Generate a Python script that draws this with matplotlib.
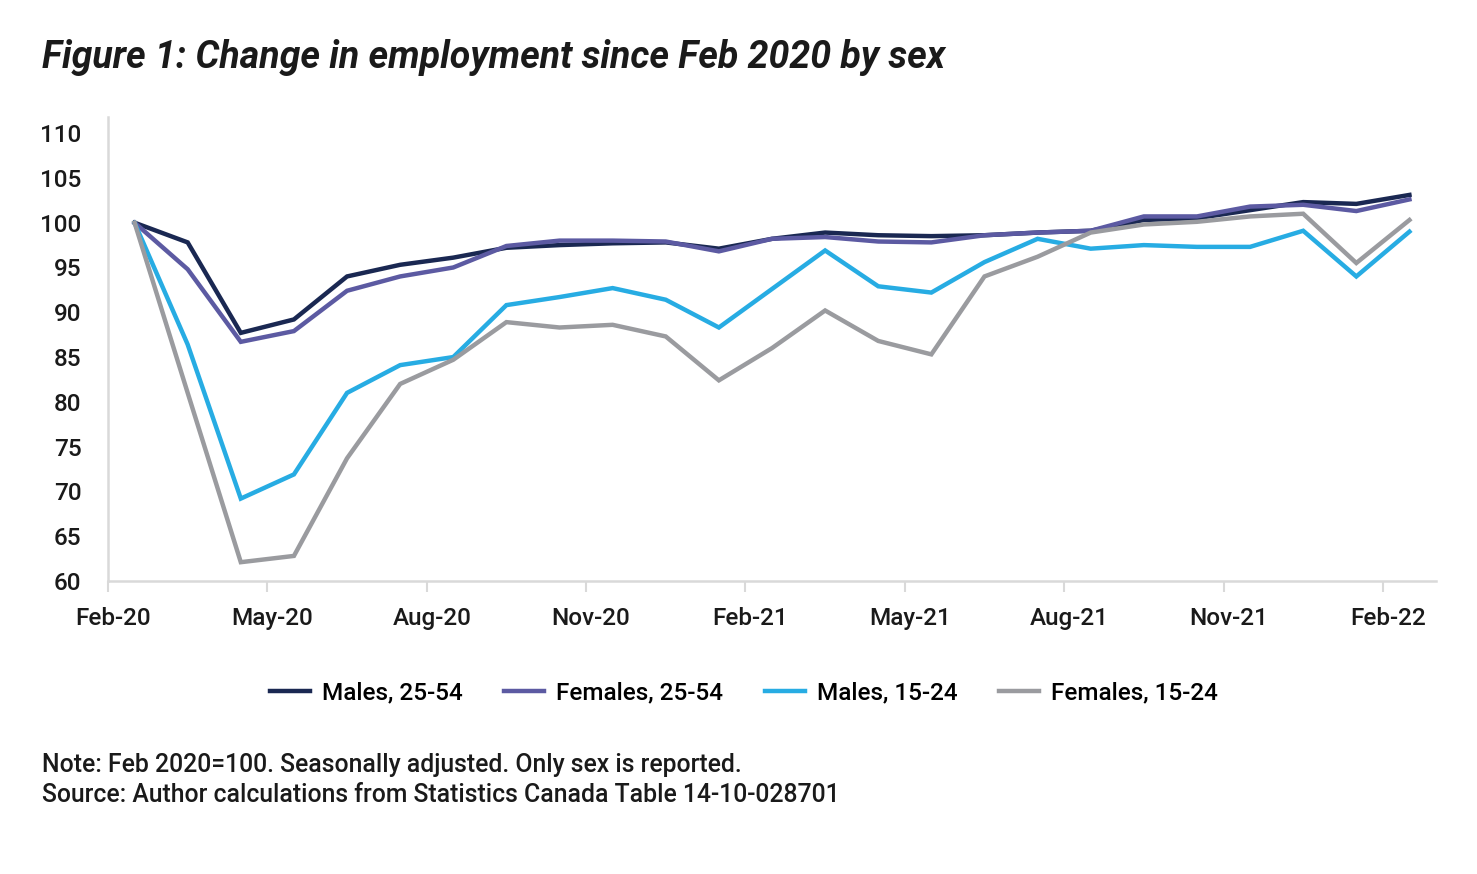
import matplotlib.pyplot as plt
import matplotlib.transforms as mtransforms
import numpy as np

# monthly index, Feb 2020 = 100
months = ['Feb-20', 'Mar-20', 'Apr-20', 'May-20', 'Jun-20', 'Jul-20', 'Aug-20', 'Sep-20',
          'Oct-20', 'Nov-20', 'Dec-20', 'Jan-21', 'Feb-21', 'Mar-21', 'Apr-21', 'May-21',
          'Jun-21', 'Jul-21', 'Aug-21', 'Sep-21', 'Oct-21', 'Nov-21', 'Dec-21', 'Jan-22',
          'Feb-22']
males_25_54 = [100.0, 97.8, 87.7, 89.2, 94.0, 95.3, 96.1, 97.2, 97.5, 97.7, 97.8, 97.1, 98.2,
               98.9, 98.6, 98.5, 98.6, 98.9, 99.1, 100.3, 100.5, 101.4, 102.3, 102.1, 103.1]
females_25_54 = [100.0, 94.8, 86.7, 87.9, 92.4, 94.0, 95.0, 97.4, 98.0, 98.0, 97.9, 96.8, 98.2,
                 98.4, 97.9, 97.8, 98.6, 98.9, 99.1, 100.7, 100.7, 101.8, 102.0, 101.3, 102.6]
males_15_24 = [100.0, 86.4, 69.2, 71.9, 81.0, 84.1, 85.0, 90.8, 91.7, 92.7, 91.4, 88.3, 92.6,
               96.9, 92.9, 92.2, 95.6, 98.2, 97.1, 97.5, 97.3, 97.3, 99.1, 94.0, 99.0]
females_15_24 = [100.0, 81.0, 62.1, 62.8, 73.7, 82.0, 84.7, 88.9, 88.3, 88.6, 87.3, 82.4, 86.0,
                 90.2, 86.8, 85.3, 94.0, 96.2, 98.9, 99.8, 100.1, 100.7, 101.0, 95.5, 100.3]

series = [('Males, 25-54', males_25_54, '#1a2852'),
          ('Females, 25-54', females_25_54, '#5c5aa2'),
          ('Males, 15-24', males_15_24, '#27ace3'),
          ('Females, 15-24', females_15_24, '#9a9b9f')]

plt.rcParams['font.family'] = ['Roboto', 'DejaVu Sans']
plt.rcParams['font.weight'] = 'medium'
FS = 17.5
TXT = '#1a1a1a'

fig = plt.figure(figsize=(14.77, 8.74), dpi=100)
ax = fig.add_axes([108 / 1477, 1 - 581 / 874, (1436 - 108) / 1477, (581 - 117) / 874])

x = np.arange(len(months))
for name, vals, col in series:
    ax.plot(x, vals, color=col, lw=3.2, label=name, solid_joinstyle='miter')

ax.set_xlim(-0.5, len(months) - 0.5)
ax.set_ylim(60, 111.8)
ax.set_yticks(range(60, 111, 5))
ax.tick_params(axis='y', length=0, labelsize=FS, pad=19, colors=TXT)

tick_pos = np.arange(-0.5, len(months) - 0.5, 3)
ax.set_xticks(tick_pos)
ax.set_xticklabels(months[::3])
ax.tick_params(axis='x', length=8, width=1.5, color='#d9d9d9', labelsize=FS, pad=11,
               labelcolor=TXT)
shift = mtransforms.ScaledTranslation(5 / 100, 0, fig.dpi_scale_trans)
for lab in ax.get_xticklabels():
    lab.set_transform(lab.get_transform() + shift)

for s in ['top', 'right']:
    ax.spines[s].set_visible(False)
for s in ['left', 'bottom']:
    ax.spines[s].set_color('#d9d9d9')
    ax.spines[s].set_linewidth(1.8)

fig.text(42 / 1477, 1 - 57 / 874, 'Figure 1: Change in employment since Feb 2020 by sex',
         fontsize=27, fontweight='bold', style='italic', va='center', ha='left', color=TXT)

fig.legend(loc='center', bbox_to_anchor=(744 / 1477, 1 - 693 / 874), ncol=4, frameon=False,
           fontsize=FS, handlelength=1.65, columnspacing=1.7, handletextpad=0.5)

fig.text(42 / 1477, 1 - 765 / 874, 'Note: Feb 2020=100. Seasonally adjusted. Only sex is reported.',
         fontsize=17.8, va='center', ha='left', color=TXT)
fig.text(42 / 1477, 1 - 795 / 874, 'Source: Author calculations from Statistics Canada Table 14-10-028701',
         fontsize=17.8, va='center', ha='left', color=TXT)

fig.savefig('out.png', dpi=100)
